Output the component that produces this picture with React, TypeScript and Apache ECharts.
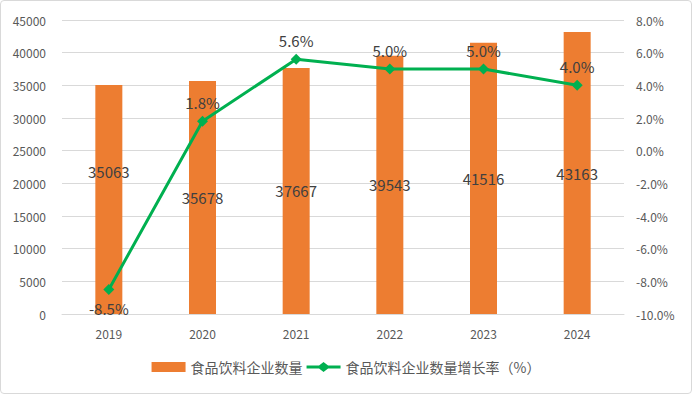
import React, { useEffect, useRef } from "react";
import * as echarts from "echarts";

const categories = ["2019", "2020", "2021", "2022", "2023", "2024"];
const counts = [35063, 35678, 37667, 39543, 41516, 43163];
const growth = [-8.5, 1.8, 5.6, 5.0, 5.0, 4.0];
const barName = "食品饮料企业数量";
const lineName = "食品饮料企业数量增长率（%）";

export default function App() {
  const ref = useRef<HTMLDivElement>(null);
  useEffect(() => {
    document.body.style.margin = "0";
    const chart = echarts.init(ref.current!, null, { renderer: "svg" });
    const font = "'Microsoft YaHei', 'Noto Sans CJK SC', 'DejaVu Sans', sans-serif";
    chart.setOption({
      animation: false,
      textStyle: { fontFamily: font },
      grid: { left: 61, right: 67, top: 19, bottom: 79 },
      legend: {
        bottom: 14,
        left: "center",
        itemGap: 4,
        itemWidth: 34,
        itemHeight: 10,
        textStyle: { fontSize: 14, color: "#595959", fontFamily: font },
        data: [
          { name: barName, icon: "rect", itemStyle: { color: "#ED7D31" } },
          {
            name: lineName,
            icon: "path://M0,3.6 L12.5,3.6 L17,0 L21.5,3.6 L34,3.6 L34,6.4 L21.5,6.4 L17,10 L12.5,6.4 L0,6.4 Z",
            itemStyle: { color: "#00B050" },
          },
        ],
      },
      xAxis: {
        type: "category",
        data: categories,
        axisLine: { lineStyle: { color: "#d9d9d9" } },
        axisTick: { show: false },
        axisLabel: { color: "#595959", fontSize: 12, margin: 13 },
      },
      yAxis: [
        {
          type: "value",
          min: 0,
          max: 45000,
          interval: 5000,
          axisLabel: {
            color: "#595959",
            fontSize: 12,
            margin: 16,
            formatter: (v: number) => String(v),
          },
          splitLine: { lineStyle: { color: "#d9d9d9" } },
          axisLine: { show: false },
          axisTick: { show: false },
        },
        {
          type: "value",
          min: -10,
          max: 8,
          interval: 2,
          axisLabel: {
            color: "#595959",
            fontSize: 12,
            margin: 12,
            formatter: (v: number) => v.toFixed(1) + "%",
          },
          splitLine: { show: false },
          axisLine: { show: false },
          axisTick: { show: false },
        },
      ],
      series: [
        {
          name: barName,
          type: "bar",
          data: counts.map((v, i) =>
            i === 0 ? { value: v, label: { offset: [0, -28] } } : v
          ),
          barWidth: 27,
          itemStyle: { color: "#ED7D31" },
          label: {
            show: true,
            position: "inside",
            color: "#404040",
            fontSize: 15,
            fontFamily: font,
          },
        },
        {
          name: lineName,
          type: "line",
          yAxisIndex: 1,
          data: growth.map((v, i) =>
            i === 0 ? { value: v, label: { position: "bottom" } } : v
          ),
          symbol: "diamond",
          symbolSize: 11,
          lineStyle: { color: "#00B050", width: 3 },
          itemStyle: { color: "#00B050" },
          label: {
            show: true,
            position: "top",
            distance: 6,
            color: "#404040",
            fontSize: 15,
            fontFamily: font,
            formatter: (p: any) => Number(p.value).toFixed(1) + "%",
          },
        },
      ],
    });
    return () => chart.dispose();
  }, []);
  return (
    <div
      ref={ref}
      style={{
        width: 690,
        height: 392,
        border: "1px solid #d9d9d9",
        borderRadius: 4,
        background: "#fff",
      }}
    />
  );
}
